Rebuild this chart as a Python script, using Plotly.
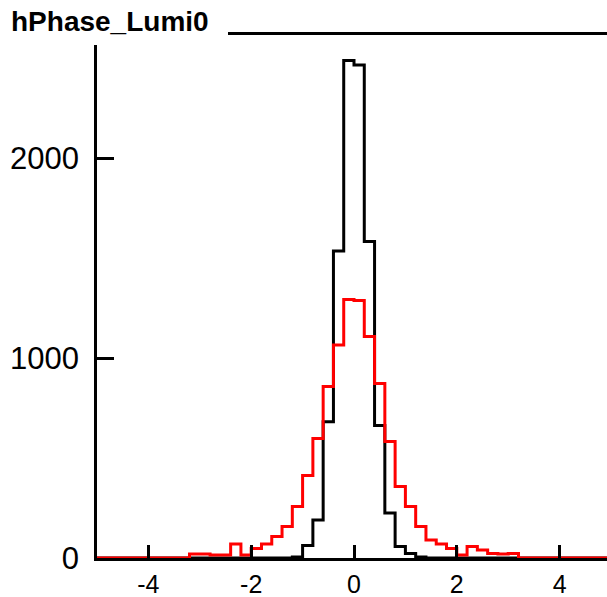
import numpy as np
import plotly.graph_objects as go

# histogram binning: 50 bins from -5 to 5
x_min, x_max, n_bins = -5.0, 5.0, 50
bin_edges = np.linspace(x_min, x_max, n_bins + 1)

black_counts = [0]*19 + [5, 62, 190, 681, 1535, 2487, 2465, 1582, 662, 225, 57, 22, 5] + [0]*18
red_counts = [0]*9 + [20, 20, 15, 15, 70, 15, 48, 70, 107, 157, 257, 412, 598, 857, 1065,
                      1293, 1287, 1107, 873, 582, 357, 257, 157, 90, 70, 48, 15, 57, 40, 23, 20, 23] + [0]*9

title_text = "hPhase_Lumi0"
x_tick_vals = [-4, -2, 0, 2, 4]
x_tick_text = ["-4", "-2", "0", "2", "4"]
y_tick_vals = [0, 1000, 2000]
y_tick_text = ["0", "1000", "2000"]

W, H = 607, 597
L, R, T, B = 97, 0, 35, 39
pw, ph = W - L - R, H - T - B


def step(counts):
    xs = list(bin_edges)
    ys = list(counts) + [counts[-1]]
    return xs, ys


fig = go.Figure()
for counts, color in [(black_counts, "black"), (red_counts, "#ff0000")]:
    xs, ys = step(counts)
    fig.add_trace(go.Scatter(x=xs, y=ys, mode="lines", line_shape="hv",
                             line=dict(color=color, width=3), hoverinfo="skip"))

x_right = x_min + (x_max - x_min) * pw / (611 - L)

fig.update_layout(
    width=W, height=H, margin=dict(l=L, r=R, t=T, b=B, autoexpand=False),
    paper_bgcolor="white", plot_bgcolor="white", showlegend=False,
    font=dict(family="Liberation Sans, Arial, sans-serif", color="black"),
    xaxis=dict(range=[x_min, x_right], tickvals=x_tick_vals, ticktext=x_tick_text,
               ticks="inside", ticklen=13, automargin=False,
               tickwidth=2.5, tickcolor="black", showline=True, linecolor="black", linewidth=2.5,
               mirror=True, showgrid=False, zeroline=False, tickfont=dict(size=25),
               ticklabelstandoff=2),
    yaxis=dict(range=[0, 2615], tickvals=y_tick_vals, ticktext=y_tick_text, ticks="inside",
               ticklen=17, automargin=False,
               tickwidth=2.5, tickcolor="black", showline=True, linecolor="black", linewidth=2.5,
               showgrid=False, zeroline=False, tickfont=dict(size=31), ticklabelstandoff=9),
)

def px_x(p):
    return (p - L) / pw

def px_y(p):
    return (H - B - p) / ph

fig.add_shape(type="rect", xref="paper", yref="paper", x0=px_x(-5), x1=px_x(228),
              y0=px_y(45), y1=px_y(-5), fillcolor="white", line=dict(width=0), layer="above")
fig.add_annotation(text="<b>" + title_text + "</b>", xref="paper", yref="paper",
                   x=px_x(9), y=px_y(21), xanchor="left", yanchor="middle", showarrow=False,
                   font=dict(size=28, family="Liberation Sans, Arial, sans-serif",
                             color="black"))

fig.write_html("out.html", config={"displayModeBar": False},
               post_script="document.body.style.margin='0';document.body.style.overflow='hidden';")
